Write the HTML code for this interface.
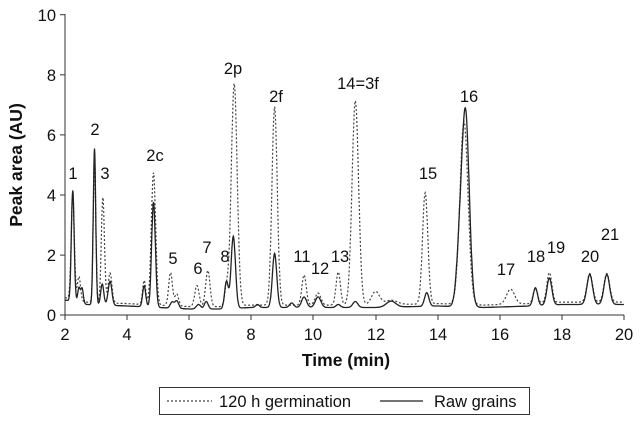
<!DOCTYPE html>
<html><head><meta charset="utf-8"><style>
html,body{margin:0;padding:0;background:#fff;}
svg{display:block;font-family:"Liberation Sans",Arial,sans-serif;}
</style></head><body>
<svg id="s" width="640" height="423" viewBox="0 0 640 423" xmlns="http://www.w3.org/2000/svg">
<g stroke="#333" stroke-width="1" fill="none">
<line x1="65" y1="14" x2="65" y2="315"/>
<line x1="65" y1="315" x2="624" y2="315"/>
<line x1="60" y1="14.7" x2="65" y2="14.7"/><line x1="60" y1="74.8" x2="65" y2="74.8"/>
<line x1="60" y1="134.9" x2="65" y2="134.9"/><line x1="60" y1="195" x2="65" y2="195"/>
<line x1="60" y1="255.1" x2="65" y2="255.1"/><line x1="60" y1="315" x2="65" y2="315"/>
<line x1="127" y1="315" x2="127" y2="320"/><line x1="189" y1="315" x2="189" y2="320"/>
<line x1="251" y1="315" x2="251" y2="320"/><line x1="313" y1="315" x2="313" y2="320"/>
<line x1="376" y1="315" x2="376" y2="320"/><line x1="438" y1="315" x2="438" y2="320"/>
<line x1="500" y1="315" x2="500" y2="320"/><line x1="562" y1="315" x2="562" y2="320"/>
<line x1="624" y1="315" x2="624" y2="320"/><line x1="65" y1="315" x2="65" y2="320"/>
</g>
<g font-size="16.5" fill="#111" text-anchor="end">
<text x="56" y="21">10</text><text x="56" y="81">8</text><text x="56" y="141">6</text>
<text x="56" y="201">4</text><text x="56" y="261">2</text><text x="56" y="321">0</text>
</g>
<g font-size="16.5" fill="#111" text-anchor="middle">
<text x="65" y="340">2</text><text x="127" y="340">4</text><text x="189" y="340">6</text>
<text x="251" y="340">8</text><text x="313" y="340">10</text><text x="376" y="340">12</text>
<text x="438" y="340">14</text><text x="500" y="340">16</text><text x="562" y="340">18</text><text x="624" y="340">20</text>
</g>
<text x="346" y="366" font-size="17.5" font-weight="bold" text-anchor="middle" fill="#111">Time (min)</text>
<text transform="translate(22,165) rotate(-90)" font-size="17.5" font-weight="bold" text-anchor="middle" fill="#111">Peak area (AU)</text>
<g font-size="16.5" fill="#111" text-anchor="middle">
<text x="73" y="179">1</text><text x="95" y="135">2</text><text x="105" y="179">3</text>
<text x="155" y="161">2c</text><text x="173" y="264">5</text><text x="198" y="274">6</text>
<text x="207" y="253">7</text><text x="225" y="262">8</text><text x="233" y="74">2p</text>
<text x="276" y="102">2f</text><text x="302" y="262">11</text><text x="320" y="274">12</text>
<text x="340" y="262">13</text><text x="358" y="89">14=3f</text><text x="428" y="179">15</text>
<text x="469" y="102">16</text><text x="506" y="275">17</text><text x="536" y="262">18</text>
<text x="556" y="253">19</text><text x="590" y="262">20</text><text x="610" y="240">21</text>
</g>
<path id="dot" fill="none" stroke="#444" stroke-width="1.2" stroke-dasharray="2,2"/>
<path id="raw" fill="none" stroke="#222" stroke-width="1.3"/>
<rect x="159.5" y="387.5" width="370" height="27" fill="none" stroke="#333"/>
<line x1="167" y1="401" x2="212" y2="401" stroke="#444" stroke-width="1.2" stroke-dasharray="2,2"/>
<text x="219" y="407" font-size="16.5" fill="#111">120 h germination</text>
<line x1="380" y1="401" x2="423" y2="401" stroke="#222" stroke-width="1.2"/>
<text x="434" y="407" font-size="16.5" fill="#111">Raw grains</text>
</svg>
<script>
function X(t){return 65+(t-2)*31.05;}
function Y(v){return 315-v*30.04;}
function base(t){var pts=[[2,0.5],[2.7,0.35],[4,0.3],[5,0.25],[6,0.2],[7,0.2],[8,0.25],[12,0.25],[14,0.3],[15.5,0.25],[17,0.3],[18,0.35],[20,0.35]];
for(var i=0;i<pts.length-1;i++){if(t<=pts[i+1][0]){var a=pts[i],b=pts[i+1];return a[1]+(b[1]-a[1])*(t-a[0])/(b[0]-a[0]);}}return 0.35;}
var raw=[[2.25,3.7,.045],[2.45,0.5,.04],[2.55,0.5,.04],[2.95,5.2,.04],[3.2,0.7,.05],[3.45,0.8,.06],[4.55,0.7,.05],[4.85,3.5,.06],[5.45,0.2,.06],[5.6,0.25,.06],[6.3,0.15,.07],[6.55,0.25,.06],[7.2,0.9,.06],[7.42,2.4,.07],[8.2,0.1,.06],[8.75,1.8,.07],[9.3,0.15,.07],[9.7,0.35,.08],[10.15,0.35,.09],[10.8,0.1,.07],[11.35,0.2,.08],[12.5,0.2,.15],[13.65,0.45,.07],[14.9,6.4,.12],[14.7,1.5,.1],[17.15,0.6,.07],[17.6,0.9,.08],[18.9,1.0,.09],[19.45,1.0,.09]];
var dot=[[2.25,3.5,.05],[2.45,0.8,.05],[2.95,4.9,.04],[3.22,3.5,.05],[3.45,1.0,.06],[4.55,0.8,.05],[4.85,4.4,.07],[5.4,1.1,.06],[5.6,0.4,.06],[6.25,0.7,.07],[6.6,1.2,.07],[7.2,0.6,.06],[7.45,7.4,.095],[8.75,6.6,.085],[9.7,1.0,.07],[10.15,0.4,.09],[10.8,1.1,.07],[11.35,6.8,.105],[12.0,0.45,.13],[12.5,0.15,.2],[13.6,3.7,.085],[14.85,6.1,.13],[16.35,0.5,.13],[17.15,0.5,.07],[17.6,1.0,.08],[18.9,0.95,.09],[19.45,0.95,.09]];
function build(p,extra){var d="";for(var t=2;t<=20.0001;t+=0.01){var v=base(t)+extra;for(var i=0;i<p.length;i++){var z=(t-p[i][0])/p[i][2];v+=p[i][1]*Math.exp(-0.5*z*z);}
d+=(d?"L":"M")+X(t).toFixed(1)+" "+Y(v).toFixed(1);}return d;}
document.getElementById("raw").setAttribute("d",build(raw,0));
document.getElementById("dot").setAttribute("d",build(dot,0.08));
</script>
</body></html>
